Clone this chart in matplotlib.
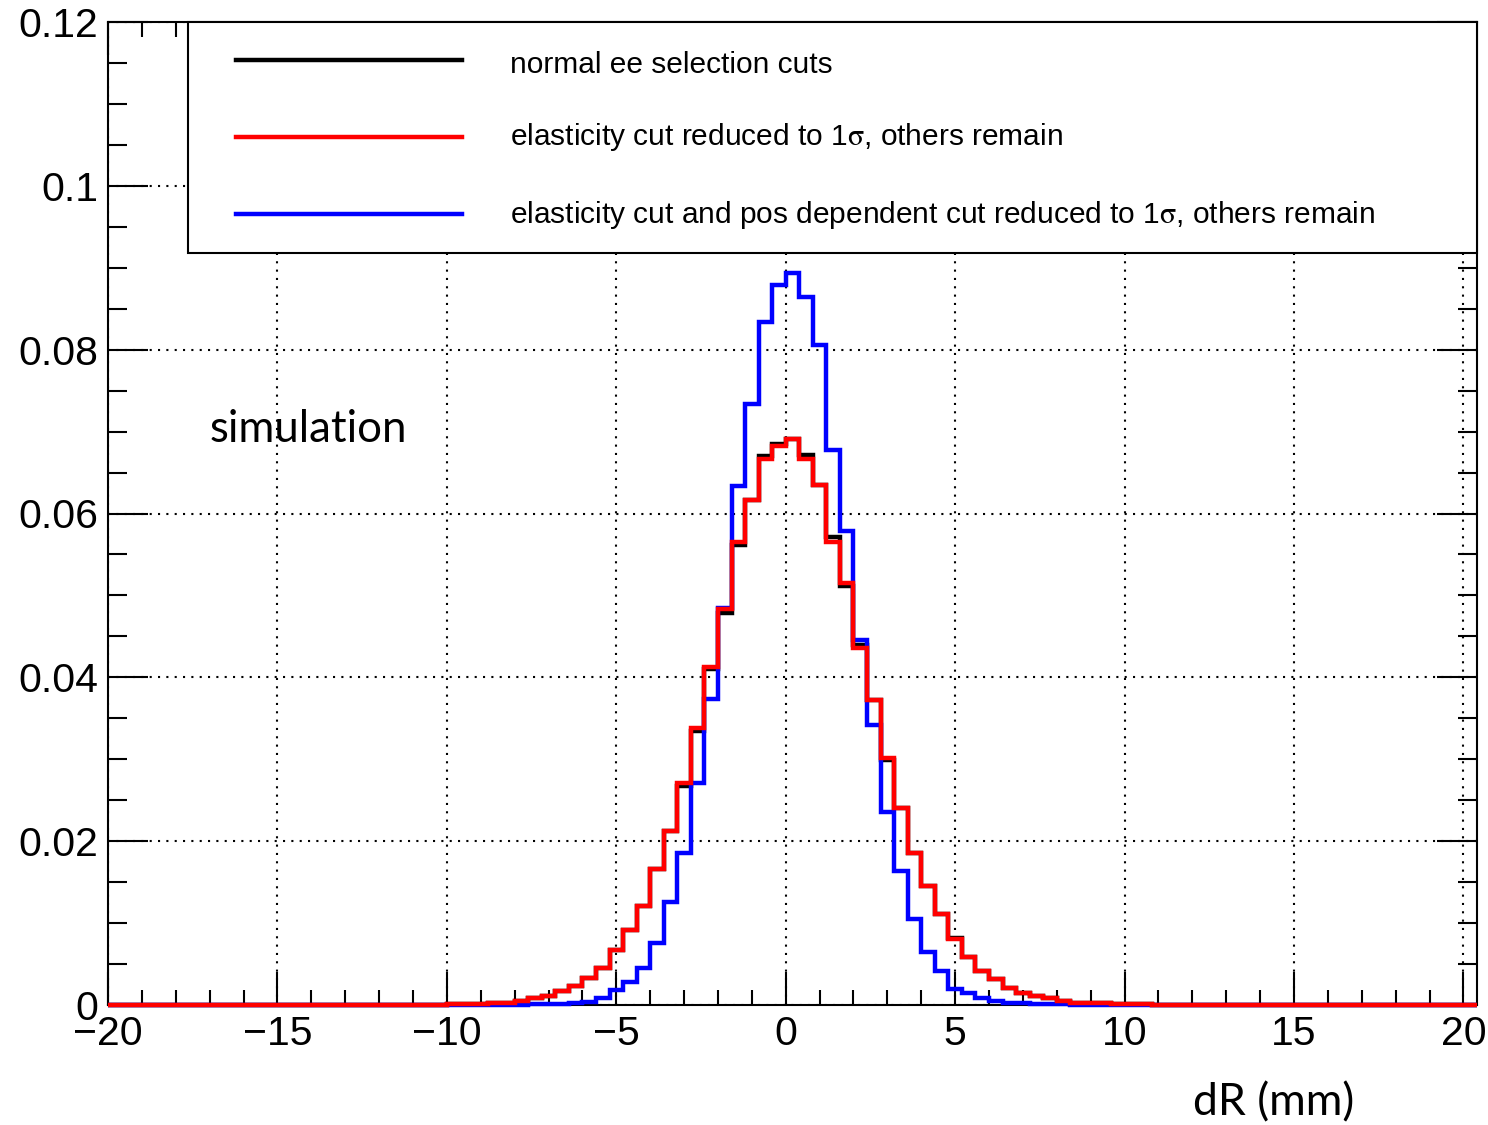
import numpy as np
import matplotlib
matplotlib.use("Agg")
import matplotlib.pyplot as plt
from matplotlib.patches import Rectangle
from matplotlib.lines import Line2D
from matplotlib.ticker import MultipleLocator, FuncFormatter

plt.rcParams['font.family'] = ['Liberation Sans', 'DejaVu Sans']
plt.rcParams['mathtext.fontset'] = 'stix'

# bins of 0.4 mm, left edges -20.0 ... 20.0
edges = np.round(np.arange(-20.0, 20.41, 0.4), 2)

# normal ee selection cuts
black = [
    0, 0, 0, 0, 0, 0, 0, 0, 0, 0,
    0, 0, 0, 0, 0, 0, 0, 0, 0, 0,
    0.00002, 0.00003, 0.00004, 0.00005, 0.00006, 0.00008, 0.0001, 0.00015, 0.0002, 0.0003,
    0.00045, 0.0008, 0.00105, 0.0017, 0.0023, 0.0033, 0.0045, 0.0067, 0.0091, 0.0121,
    0.0166, 0.0213, 0.0267, 0.0335, 0.0410, 0.0479, 0.0561, 0.0616, 0.0670, 0.0685,
    0.0691, 0.0671, 0.0635, 0.0571, 0.0511, 0.0440, 0.0372, 0.0299, 0.0241, 0.0185,
    0.0145, 0.0111, 0.0082, 0.0058, 0.0041, 0.0032, 0.0021, 0.0015, 0.00105, 0.0008,
    0.0005, 0.0003, 0.00025, 0.0002, 0.00015, 0.0001, 0.00008, 0.00006, 0.00005, 0.00004,
    0.00003, 0, 0, 0, 0, 0, 0, 0, 0, 0,
    0, 0, 0, 0, 0, 0, 0, 0, 0, 0,
    0,
]

# elasticity cut reduced to 1 sigma
red = [
    0, 0, 0, 0, 0, 0, 0, 0, 0, 0,
    0, 0, 0, 0, 0, 0, 0, 0, 0, 0,
    0.00002, 0.00003, 0.00004, 0.00005, 0.00006, 0.00008, 0.0001, 0.00015, 0.0002, 0.0003,
    0.00045, 0.0008, 0.00105, 0.0017, 0.0023, 0.0033, 0.0045, 0.0067, 0.0091, 0.0121,
    0.0166, 0.0213, 0.0271, 0.0338, 0.0413, 0.0483, 0.0565, 0.0616, 0.0667, 0.0682,
    0.0691, 0.0667, 0.0635, 0.0565, 0.0515, 0.0436, 0.0372, 0.0302, 0.0241, 0.0185,
    0.0145, 0.0111, 0.0080, 0.0058, 0.0041, 0.0032, 0.0021, 0.0015, 0.00105, 0.0008,
    0.0005, 0.0003, 0.00025, 0.0002, 0.00015, 0.0001, 0.00008, 0.00006, 0.00005, 0.00004,
    0.00003, 0, 0, 0, 0, 0, 0, 0, 0, 0,
    0, 0, 0, 0, 0, 0, 0, 0, 0, 0,
    0,
]

# elasticity + pos dependent cut reduced to 1 sigma
blue = [
    0, 0, 0, 0, 0, 0, 0, 0, 0, 0,
    0, 0, 0, 0, 0, 0, 0, 0, 0, 0,
    0, 0, 0, 0, 0, 0.00001, 0.00001, 0.00002, 0.00002, 0.00003,
    0.00005, 0.00007, 0.0001, 0.00015, 0.00025, 0.0004, 0.0008, 0.0018, 0.0028, 0.0045,
    0.0076, 0.0126, 0.0185, 0.0271, 0.0374, 0.0485, 0.0633, 0.0734, 0.0834, 0.0879,
    0.0894, 0.0864, 0.0806, 0.0678, 0.0579, 0.0446, 0.0342, 0.0236, 0.0164, 0.0105,
    0.0065, 0.0041, 0.0020, 0.0015, 0.0008, 0.0005, 0.0003, 0.0002, 0.00015, 0.0001,
    0.00007, 0.00005, 0.00003, 0.00002, 0.00001, 0, 0, 0, 0, 0,
    0, 0, 0, 0, 0, 0, 0, 0, 0, 0,
    0, 0, 0, 0, 0, 0, 0, 0, 0, 0,
    0,
]

labels = ["normal ee selection cuts",
          r"elasticity cut reduced to 1$\mathrm{\sigma}$, others remain",
          r"elasticity cut and pos dependent cut reduced to 1$\mathrm{\sigma}$, others remain"]
colors = ["black", "red", "blue"]

W, H = 1488, 1125
L, R, T, B = 108, 1477, 22, 1005
fig = plt.figure(figsize=(W / 100, H / 100), dpi=100)
ax = fig.add_axes([L / W, 1 - B / H, (R - L) / W, (B - T) / H])

for vals, c in zip([black, blue, red], ["black", "blue", "red"]):
    ax.stairs(vals, edges, color=c, lw=3.2, clip_on=False, zorder=3)

ax.set_xlim(-20, 20.4)
ax.set_ylim(0, 0.12)
ax.xaxis.set_major_locator(MultipleLocator(5))
ax.xaxis.set_minor_locator(MultipleLocator(1))
ax.yaxis.set_major_locator(MultipleLocator(0.02))
ax.yaxis.set_minor_locator(MultipleLocator(0.005))
ax.yaxis.set_major_formatter(FuncFormatter(lambda v, p: "%g" % round(v, 3)))
ax.xaxis.set_major_formatter(FuncFormatter(lambda v, p: ("%g" % v).replace("-", "\u2212")))

ax.tick_params(axis='both', which='both', direction='in', top=True, right=True,
               width=1.5, labelsize=29.5)
ax.tick_params(axis='x', which='major', length=24, pad=7)
ax.tick_params(axis='x', which='minor', length=11)
ax.tick_params(axis='y', which='major', length=29, pad=7)
ax.tick_params(axis='y', which='minor', length=14)
for s in ax.spines.values():
    s.set_linewidth(1.5)
ax.grid(True, which='major', color='black', lw=1.5, linestyle=(0, (1, 3)))


def af(px, py):
    return ((px - L) / (R - L), (B - py) / (B - T))


# legend box
x0, y0 = af(188, 253)
x1, y1 = af(1477, 22)
ax.add_patch(Rectangle((x0, y0), x1 - x0, y1 - y0, transform=ax.transAxes,
                       facecolor='white', edgecolor='black', lw=1.5,
                       clip_on=False, zorder=6))
for lab, c, py, base in zip(labels, colors, [60, 137, 214], [73, 145, 223]):
    lx0, ly = af(236, py)
    lx1, _ = af(462, py)
    ax.add_line(Line2D([lx0, lx1], [ly, ly], transform=ax.transAxes, color=c,
                       lw=3.2, zorder=7, clip_on=False))
    tx, ty = af(510, base)
    ax.text(tx, ty, lab, transform=ax.transAxes, fontsize=21.5, va='baseline',
            ha='left', zorder=7)

fig.text(210 / W, 1 - 430 / H, "simulation", fontsize=31.5, family='Lato',
         va='center', ha='left')
fig.text(1193 / W, 1 - 1103 / H, "dR (mm)", fontsize=32, family='Lato',
         va='center', ha='left')

fig.savefig("out.png", dpi=100)
